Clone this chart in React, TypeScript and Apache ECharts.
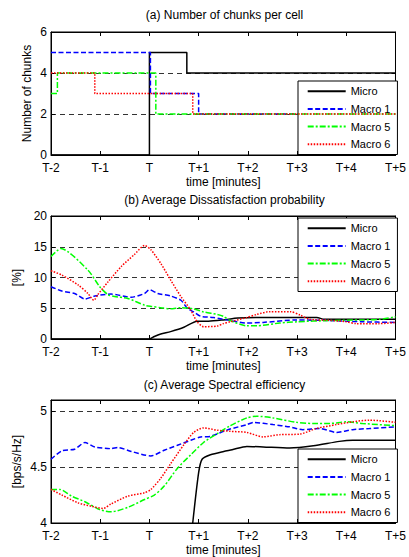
import React, { useEffect, useRef } from 'react';
import * as echarts from 'echarts';

const FONT = "'Liberation Sans', Arial, Helvetica, sans-serif";

const TICK_LABELS = ['T-2', 'T-1', 'T', 'T+1', 'T+2', 'T+3', 'T+4', 'T+5'];
const SERIES_NAMES = ['Micro', 'Macro 1', 'Macro 5', 'Macro 6'];
const TITLES = [
  '(a) Number of chunks per cell',
  '(b) Average Dissatisfaction probability',
  '(c) Average Spectral efficiency',
];
const Y_NAMES = ['Number of chunks', '[%]', '[bps/s/Hz]'];

// (a) Number of chunks per cell  [x in minutes from T-2, value]
const chunksMicro = [[0, 0], [2, 0], [2, 5], [2.76, 5], [2.76, 4], [7, 4]];
const chunksMacro1 = [[0, 5], [2.02, 5], [2.02, 3], [3.0, 3], [3.0, 2], [7, 2]];
const chunksMacro5 = [[0, 3], [0.13, 3], [0.13, 4], [2.13, 4], [2.13, 2], [7, 2]];
const chunksMacro6 = [[0, 4], [0.89, 4], [0.89, 3], [2.88, 3], [2.88, 2], [7, 2]];

// (b) Average Dissatisfaction probability [%]
const dissMicro = [[0, 0], [2, 0], [2.1, 0.4], [2.23, 0.8], [2.43, 1.2], [2.7, 1.9], [2.97, 2.9], [3.2, 2.9], [3.5, 3.1], [3.8, 3.4], [4.5, 3.5], [5.4, 3.5], [5.55, 3.2], [7, 3.2]];
const dissMacro1 = [[0, 8.5], [0.22, 7.8], [0.48, 7.4], [0.69, 6.5], [0.89, 7.0], [1.22, 7.3], [1.63, 6.8], [1.9, 7.4], [2.0, 8.0], [2.17, 7.4], [2.43, 7.0], [2.64, 6.3], [2.77, 5.0], [2.9, 4.4], [3.04, 3.7], [3.3, 3.5], [3.64, 3.0], [3.98, 2.6], [4.31, 2.7], [4.99, 3.1], [5.66, 3.0], [6.33, 2.8], [7, 2.7]];
const dissMacro5 = [[0, 13.4], [0.2, 14.7], [0.75, 11.2], [0.99, 8.5], [1.16, 7.2], [1.29, 6.9], [1.56, 6.6], [1.9, 5.5], [2.03, 5.3], [2.23, 5.1], [2.43, 4.9], [2.64, 5.1], [2.9, 4.9], [3.1, 4.4], [3.38, 4.0], [3.5, 3.7], [3.64, 3.0], [3.98, 2.15], [4.18, 2.15], [4.65, 2.6], [5.0, 2.8], [5.66, 3.0], [6.33, 3.1], [6.67, 3.2], [7, 3.6]];
const dissMacro6 = [[0, 11.1], [0.22, 10.4], [0.55, 8.8], [0.75, 7.4], [0.87, 6.3], [0.95, 7.2], [1.16, 9.3], [1.43, 11.8], [1.69, 13.7], [1.9, 15.2], [2.03, 14.5], [2.23, 12.3], [2.43, 9.6], [2.64, 6.9], [2.84, 4.7], [2.97, 2.8], [3.1, 2.0], [3.38, 2.1], [3.5, 2.5], [3.64, 2.8], [3.98, 3.5], [4.18, 4.0], [4.45, 4.45], [4.86, 4.45], [5.06, 3.9], [5.26, 3.2], [5.66, 3.05], [6.0, 2.8], [6.2, 2.5], [6.67, 2.5], [7, 2.7]];

// (c) Average Spectral efficiency [bps/s/Hz]
const specMicro = [[2.88, 4.0], [3.0, 4.45], [3.07, 4.57], [3.24, 4.61], [3.51, 4.64], [3.68, 4.655], [3.98, 4.685], [4.31, 4.68], [4.85, 4.67], [5.33, 4.69], [5.86, 4.73], [6.13, 4.74], [7, 4.74]];
const specMacro1 = [[0, 4.57], [0.22, 4.645], [0.48, 4.66], [0.69, 4.72], [0.89, 4.68], [1.22, 4.665], [1.36, 4.675], [1.63, 4.64], [2.03, 4.6], [2.3, 4.65], [2.57, 4.695], [2.84, 4.74], [3.04, 4.77], [3.24, 4.775], [3.51, 4.82], [3.64, 4.84], [3.98, 4.88], [4.11, 4.9], [4.51, 4.88], [4.85, 4.86], [5.12, 4.835], [5.46, 4.845], [5.8, 4.81], [6.13, 4.835], [6.47, 4.845], [7, 4.86]];
const specMacro5 = [[0, 4.3], [0.18, 4.3], [0.42, 4.24], [0.69, 4.19], [0.99, 4.12], [1.22, 4.1], [1.56, 4.14], [1.9, 4.21], [2.1, 4.25], [2.3, 4.33], [2.57, 4.49], [2.84, 4.61], [3.1, 4.72], [3.38, 4.8], [3.64, 4.87], [3.98, 4.94], [4.18, 4.955], [4.51, 4.94], [4.99, 4.9], [5.33, 4.89], [5.66, 4.89], [6.0, 4.905], [6.33, 4.89], [7, 4.87]];
const specMacro6 = [[0, 4.3], [0.22, 4.25], [0.55, 4.18], [0.82, 4.15], [1.06, 4.13], [1.22, 4.17], [1.56, 4.24], [1.9, 4.27], [2.03, 4.3], [2.23, 4.4], [2.43, 4.53], [2.7, 4.7], [2.9, 4.81], [3.1, 4.85], [3.38, 4.83], [3.64, 4.82], [3.98, 4.81], [4.31, 4.77], [4.65, 4.79], [5.06, 4.795], [5.39, 4.845], [5.8, 4.88], [6.13, 4.905], [6.47, 4.92], [7, 4.9]];

const Y_RANGES = [
  { min: 0, max: 6, interval: 2 },
  { min: 0, max: 20, interval: 5 },
  { min: 4, max: 5.1, interval: 0.5 },
];

const PANELS = [
  [chunksMicro, chunksMacro1, chunksMacro5, chunksMacro6],
  [dissMicro, dissMacro1, dissMacro5, dissMacro6],
  [specMicro, specMacro1, specMacro5, specMacro6],
];

const LINE_STYLES = [
  { color: '#000000', type: 'solid' as any },
  { color: '#0000ff', type: [5, 2.5] as any },
  { color: '#00ff00', type: [6, 2, 2, 2] as any },
  { color: '#ff0000', type: [1.5, 1.5] as any },
];

const GRID_TOPS = [32, 216, 400];
const GRID_HEIGHT = 123;
const GRID_LEFT = 51;
const GRID_WIDTH = 347;
const TITLE_TOPS = [9, 194, 379];
const LEGEND_TOPS = [81, 218, 449];
const Y_NAME_GAPS = [18, 28, 28];

export default function App() {
  const ref = useRef<HTMLDivElement>(null);

  useEffect(() => {
    document.body.style.margin = '0';
    if (!ref.current) return;
    const chart = echarts.init(ref.current, undefined, { renderer: 'svg' });

    const axisText = { color: '#000', fontSize: 12, fontFamily: FONT };

    const grid = GRID_TOPS.map((top) => ({
      left: GRID_LEFT,
      top,
      width: GRID_WIDTH,
      height: GRID_HEIGHT,
      show: true,
      borderColor: '#000',
      borderWidth: 1,
      backgroundColor: 'transparent',
    }));

    const xAxis: any[] = [];
    const yAxis: any[] = [];
    GRID_TOPS.forEach((_, i) => {
      xAxis.push({
        type: 'value',
        gridIndex: i,
        min: 0,
        max: 7,
        interval: 1,
        position: 'bottom',
        axisLine: { onZero: false, lineStyle: { color: '#000', width: 1 } },
        axisTick: { inside: true, length: 4, lineStyle: { color: '#000' } },
        axisLabel: {
          ...axisText,
          margin: 7,
          formatter: (v: number) => TICK_LABELS[Math.round(v)] ?? '',
        },
        splitLine: { show: false },
        name: 'time [minutes]',
        nameLocation: 'middle',
        nameGap: 21,
        nameMoveOverlap: false,
        nameTextStyle: axisText,
      });
      xAxis.push({
        type: 'value',
        gridIndex: i,
        min: 0,
        max: 7,
        interval: 1,
        position: 'top',
        axisLine: { onZero: false, lineStyle: { color: '#000', width: 1 } },
        axisTick: { inside: true, length: 4, lineStyle: { color: '#000' } },
        axisLabel: { show: false },
        splitLine: { show: false },
      });
      const r = Y_RANGES[i];
      yAxis.push({
        type: 'value',
        gridIndex: i,
        min: r.min,
        max: r.max,
        interval: r.interval,
        position: 'left',
        axisLine: { show: true, onZero: false, lineStyle: { color: '#000', width: 1 } },
        axisTick: { show: true, inside: true, length: 4, lineStyle: { color: '#000' } },
        axisLabel: {
          ...axisText,
          margin: 4,
          formatter: (v: number) => {
            const k = (v - r.min) / r.interval;
            return Math.abs(k - Math.round(k)) < 1e-6 ? String(Math.round(v * 10) / 10) : '';
          },
        },
        splitLine: { show: true, lineStyle: { color: '#333', type: [5, 4], width: 1 } },
        name: Y_NAMES[i],
        nameLocation: 'middle',
        nameGap: Y_NAME_GAPS[i],
        nameRotate: 90,
        nameMoveOverlap: false,
        nameTextStyle: axisText,
      });
      yAxis.push({
        type: 'value',
        gridIndex: i,
        min: r.min,
        max: r.max,
        interval: r.interval,
        position: 'right',
        axisLine: { show: true, onZero: false, lineStyle: { color: '#000', width: 1 } },
        axisTick: { show: true, inside: true, length: 4, lineStyle: { color: '#000' } },
        axisLabel: { show: false },
        splitLine: { show: false },
      });
    });

    const series: any[] = [];
    PANELS.forEach((panel, i) => {
      panel.forEach((data, k) => {
        series.push({
          type: 'line',
          name: SERIES_NAMES[k],
          xAxisIndex: 2 * i,
          yAxisIndex: 2 * i,
          data,
          symbol: 'none',
          showSymbol: false,
          smooth: i === 0 ? false : 0.25,
          clip: true,
          lineStyle: { color: LINE_STYLES[k].color, width: 1.5, type: LINE_STYLES[k].type },
          itemStyle: { color: LINE_STYLES[k].color },
          z: 2 + k,
        });
      });
    });

    const title = TITLES.map((t, i) => ({
      text: t,
      left: GRID_LEFT + GRID_WIDTH / 2,
      top: TITLE_TOPS[i],
      textAlign: 'center',
      padding: 0,
      textStyle: { fontSize: 12, fontWeight: 'normal', color: '#000', fontFamily: FONT },
    }));

    const legend = LEGEND_TOPS.map((top) => ({
      data: SERIES_NAMES,
      orient: 'vertical',
      left: 298,
      top,
      itemWidth: 38,
      itemHeight: 10,
      itemGap: 6.7,
      padding: [4.7, 7, 4.7, 8.7],
      backgroundColor: '#fff',
      borderColor: '#000',
      borderWidth: 1,
      borderRadius: 0,
      selectedMode: false,
      itemStyle: { opacity: 0 },
      textStyle: { fontSize: 11, color: '#000', fontFamily: FONT },
    }));

    chart.setOption({
      animation: false,
      backgroundColor: '#fff',
      textStyle: { fontFamily: FONT },
      title,
      legend,
      grid,
      xAxis,
      yAxis,
      series,
    });

    return () => chart.dispose();
  }, []);

  return <div ref={ref} style={{ width: 409, height: 557 }} />;
}
